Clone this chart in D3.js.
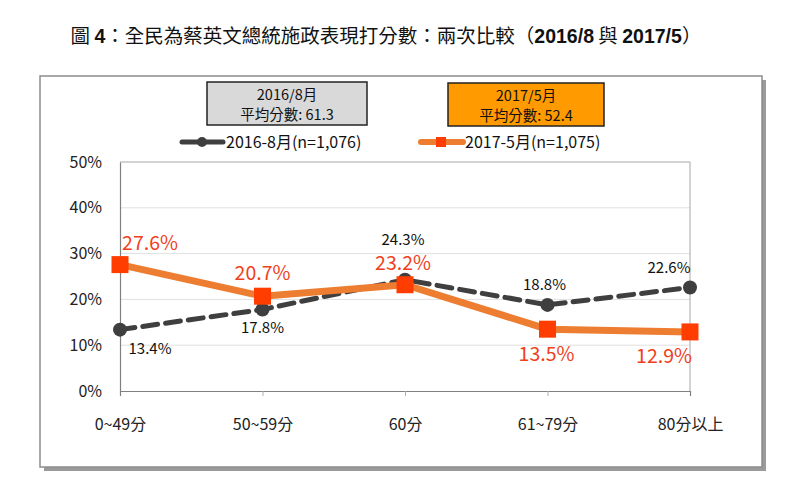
<!DOCTYPE html>
<html><head><meta charset="utf-8">
<script src="https://cdn.jsdelivr.net/npm/d3@7"></script>
<style>body{margin:0;background:#fff}svg{display:block}</style>
</head><body>
<svg id="c" width="800" height="500"></svg>
<script>
const categories = ["0~49分","50~59分","60分","61~79分","80分以上"];
const series2016 = [13.4, 17.8, 24.3, 18.8, 22.6];
const series2017 = [27.6, 20.7, 23.2, 13.5, 12.9];
const yTicks = [0,10,20,30,40,50];
const box2016 = ["2016/8月","平均分數: 61.3"];
const box2017 = ["2017/5月","平均分數: 52.4"];
const legendNames = ["2016-8月(n=1,076)","2017-5月(n=1,075)"];

const svg = d3.select("#c");
const F = "'Noto Sans CJK TC','Noto Sans',sans-serif";

// title
const t = svg.append("text").attr("x",386).attr("y",43).attr("text-anchor","middle")
  .attr("font-family","Liberation Sans, Arial, 'Noto Sans CJK TC'").attr("font-size",19.5).attr("fill","#111");
t.append("tspan").text("圖 ").attr("font-family",F);
t.append("tspan").text("4").attr("font-weight","bold");
t.append("tspan").text("：全民為蔡英文總統施政表現打分數：兩次比較（").attr("font-family",F);
t.append("tspan").text("2016/8").attr("font-weight","bold");
t.append("tspan").text(" 與 ").attr("font-family",F);
t.append("tspan").text("2017/5").attr("font-weight","bold");
t.append("tspan").text("）").attr("font-family",F);

// outer frame with shadow
svg.append("rect").attr("x",44).attr("y",80).attr("width",722).attr("height",391).attr("fill","#9a9a9a");
svg.append("rect").attr("x",40).attr("y",76).attr("width",722).attr("height",391).attr("fill","#fff").attr("stroke","#8c8c8c").attr("stroke-width",1.5);

const x = d3.scalePoint().domain(categories).range([120,690]).padding(0);
const y = d3.scaleLinear().domain([0,50]).range([391,162]);

// grid
svg.append("g").selectAll("line").data(yTicks.filter(d=>d>0&&d<50)).join("line")
  .attr("x1",120).attr("x2",690).attr("y1",d=>y(d)).attr("y2",d=>y(d))
  .attr("stroke","#e0e0e0").attr("stroke-width",1);
svg.append("path").attr("d",`M120,${y(50)}H690V${y(0)}`).attr("fill","none").attr("stroke","#a6a6a6").attr("stroke-width",1);

// axes
const yAxis = svg.append("g").attr("transform","translate(120,0)")
  .call(d3.axisLeft(y).tickValues(yTicks).tickFormat(d=>d+"%").tickSize(0).tickPadding(18));
yAxis.select(".domain").attr("stroke","#808080").attr("stroke-width",1.2);
yAxis.selectAll("text").attr("font-family",F).attr("font-size",16).attr("fill","#222");

const xAxis = svg.append("g").attr("transform",`translate(0,${y(0)})`)
  .call(d3.axisBottom(x).tickSize(5).tickPadding(23));
xAxis.select(".domain").attr("stroke","#808080").attr("stroke-width",1.2);
xAxis.selectAll(".tick line").attr("stroke","#b0b0b0").attr("opacity",(d,i)=>(i==0||i==4)?0:1);
xAxis.selectAll("text").attr("font-family",F).attr("font-size",16).attr("fill","#222");

// lines
const line = d3.line().x((d,i)=>x(categories[i])).y(d=>y(d));
svg.append("path").datum(series2016).attr("d",line).attr("fill","none")
  .attr("stroke","#3f3f3f").attr("stroke-width",5).attr("stroke-dasharray","15,8").attr("stroke-linecap","round");
svg.append("path").datum(series2017).attr("d",line).attr("fill","none")
  .attr("stroke","#ED7D31").attr("stroke-width",7);
svg.append("g").selectAll("circle").data(series2016).join("circle")
  .attr("cx",(d,i)=>x(categories[i])).attr("cy",d=>y(d)).attr("r",7).attr("fill","#3f3f3f");
svg.append("g").selectAll("rect").data(series2017).join("rect")
  .attr("x",(d,i)=>x(categories[i])-8.5).attr("y",d=>y(d)-8.5).attr("width",17).attr("height",17).attr("fill","#FF3D00");

// data labels
const dx16 = [30,0,-2,-3,-21];
const dy16 = [24,23.5,-35,-15,-14];
svg.append("g").selectAll("text").data(series2016).join("text")
  .attr("x",(d,i)=>x(categories[i])+dx16[i]).attr("y",(d,i)=>y(d)+dy16[i])
  .attr("text-anchor","middle").attr("font-family",F).attr("font-size",15).attr("fill","#111")
  .text(d=>d.toFixed(1)+"%");
const dx17 = [30,0,-2,-1,-26];
const dy17 = [-15,-16,-15,32,31];
svg.append("g").selectAll("text").data(series2017).join("text")
  .attr("x",(d,i)=>x(categories[i])+dx17[i]).attr("y",(d,i)=>y(d)+dy17[i])
  .attr("text-anchor","middle").attr("font-family",F).attr("font-size",19.5).attr("fill","#F0401A")
  .text(d=>d.toFixed(1)+"%");

// info boxes
function infoBox(x0,y0,w,h,fill,lines){
  svg.append("rect").attr("x",x0).attr("y",y0).attr("width",w).attr("height",h).attr("fill",fill).attr("stroke","#222").attr("stroke-width",1.5);
  svg.append("text").attr("x",x0+w/2).attr("y",y0+18).attr("text-anchor","middle").attr("font-family",F).attr("font-size",14.5).attr("fill","#111").text(lines[0]);
  svg.append("text").attr("x",x0+w/2).attr("y",y0+38).attr("text-anchor","middle").attr("font-family",F).attr("font-size",14.5).attr("fill","#111").text(lines[1]);
}
infoBox(207,82,160,43,"#d9d9d9",box2016);
infoBox(448,83,156,43,"#FF9A00",box2017);

// legend
const ly = 142;
svg.append("line").attr("x1",182).attr("x2",223).attr("y1",ly).attr("y2",ly).attr("stroke","#3f3f3f").attr("stroke-width",5).attr("stroke-linecap","round");
svg.append("circle").attr("cx",202).attr("cy",ly).attr("r",5).attr("fill","#3f3f3f");
svg.append("text").attr("x",226).attr("y",ly+6).attr("font-family",F).attr("font-size",16).attr("fill","#111").text(legendNames[0]);
svg.append("line").attr("x1",421).attr("x2",463).attr("y1",ly).attr("y2",ly).attr("stroke","#ED7D31").attr("stroke-width",6).attr("stroke-linecap","round");
svg.append("rect").attr("x",436).attr("y",ly-5).attr("width",10).attr("height",10).attr("fill","#FF3D00");
svg.append("text").attr("x",465).attr("y",ly+6).attr("font-family",F).attr("font-size",16).attr("fill","#111").text(legendNames[1]);
</script>
</body></html>
